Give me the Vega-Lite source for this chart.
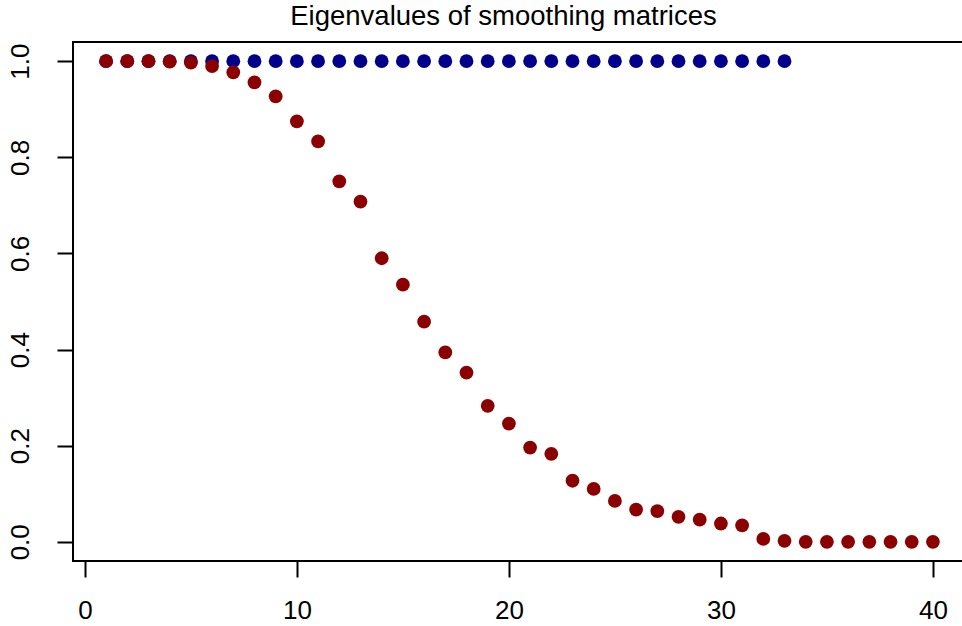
{
  "$schema": "https://vega.github.io/schema/vega-lite/v6.json",
  "autosize": "none",
  "padding": {"left": 73, "top": 42, "right": 0, "bottom": 65},
  "width": 893,
  "height": 519,
  "background": "white",
  "config": {
    "font": "Liberation Sans",
    "view": {"stroke": "black", "strokeWidth": 2},
    "axis": {"grid": false, "domain": false, "ticks": true, "tickColor": "black", "tickWidth": 2, "tickSize": 16, "labelColor": "black", "labelFontSize": 26, "labelFont": "Liberation Sans", "title": null}
  },
  "title": {"text": "Eigenvalues of smoothing matrices", "fontSize": 27.5, "fontWeight": "normal", "font": "Liberation Sans", "color": "black", "offset": 12, "dx": -16},
  "data": {
    "values": [
      {"i": 1, "eigenvalue": 1, "series": "projection"},
      {"i": 2, "eigenvalue": 1, "series": "projection"},
      {"i": 3, "eigenvalue": 1, "series": "projection"},
      {"i": 4, "eigenvalue": 1, "series": "projection"},
      {"i": 5, "eigenvalue": 1, "series": "projection"},
      {"i": 6, "eigenvalue": 1, "series": "projection"},
      {"i": 7, "eigenvalue": 1, "series": "projection"},
      {"i": 8, "eigenvalue": 1, "series": "projection"},
      {"i": 9, "eigenvalue": 1, "series": "projection"},
      {"i": 10, "eigenvalue": 1, "series": "projection"},
      {"i": 11, "eigenvalue": 1, "series": "projection"},
      {"i": 12, "eigenvalue": 1, "series": "projection"},
      {"i": 13, "eigenvalue": 1, "series": "projection"},
      {"i": 14, "eigenvalue": 1, "series": "projection"},
      {"i": 15, "eigenvalue": 1, "series": "projection"},
      {"i": 16, "eigenvalue": 1, "series": "projection"},
      {"i": 17, "eigenvalue": 1, "series": "projection"},
      {"i": 18, "eigenvalue": 1, "series": "projection"},
      {"i": 19, "eigenvalue": 1, "series": "projection"},
      {"i": 20, "eigenvalue": 1, "series": "projection"},
      {"i": 21, "eigenvalue": 1, "series": "projection"},
      {"i": 22, "eigenvalue": 1, "series": "projection"},
      {"i": 23, "eigenvalue": 1, "series": "projection"},
      {"i": 24, "eigenvalue": 1, "series": "projection"},
      {"i": 25, "eigenvalue": 1, "series": "projection"},
      {"i": 26, "eigenvalue": 1, "series": "projection"},
      {"i": 27, "eigenvalue": 1, "series": "projection"},
      {"i": 28, "eigenvalue": 1, "series": "projection"},
      {"i": 29, "eigenvalue": 1, "series": "projection"},
      {"i": 30, "eigenvalue": 1, "series": "projection"},
      {"i": 31, "eigenvalue": 1, "series": "projection"},
      {"i": 32, "eigenvalue": 1, "series": "projection"},
      {"i": 33, "eigenvalue": 1, "series": "projection"},
      {"i": 1, "eigenvalue": 1.0, "series": "smoother"},
      {"i": 2, "eigenvalue": 1.0, "series": "smoother"},
      {"i": 3, "eigenvalue": 1.0, "series": "smoother"},
      {"i": 4, "eigenvalue": 0.999, "series": "smoother"},
      {"i": 5, "eigenvalue": 0.997, "series": "smoother"},
      {"i": 6, "eigenvalue": 0.99, "series": "smoother"},
      {"i": 7, "eigenvalue": 0.977, "series": "smoother"},
      {"i": 8, "eigenvalue": 0.956, "series": "smoother"},
      {"i": 9, "eigenvalue": 0.927, "series": "smoother"},
      {"i": 10, "eigenvalue": 0.875, "series": "smoother"},
      {"i": 11, "eigenvalue": 0.833, "series": "smoother"},
      {"i": 12, "eigenvalue": 0.75, "series": "smoother"},
      {"i": 13, "eigenvalue": 0.708, "series": "smoother"},
      {"i": 14, "eigenvalue": 0.59, "series": "smoother"},
      {"i": 15, "eigenvalue": 0.535, "series": "smoother"},
      {"i": 16, "eigenvalue": 0.458, "series": "smoother"},
      {"i": 17, "eigenvalue": 0.394, "series": "smoother"},
      {"i": 18, "eigenvalue": 0.352, "series": "smoother"},
      {"i": 19, "eigenvalue": 0.283, "series": "smoother"},
      {"i": 20, "eigenvalue": 0.246, "series": "smoother"},
      {"i": 21, "eigenvalue": 0.196, "series": "smoother"},
      {"i": 22, "eigenvalue": 0.183, "series": "smoother"},
      {"i": 23, "eigenvalue": 0.127, "series": "smoother"},
      {"i": 24, "eigenvalue": 0.11, "series": "smoother"},
      {"i": 25, "eigenvalue": 0.085, "series": "smoother"},
      {"i": 26, "eigenvalue": 0.067, "series": "smoother"},
      {"i": 27, "eigenvalue": 0.064, "series": "smoother"},
      {"i": 28, "eigenvalue": 0.052, "series": "smoother"},
      {"i": 29, "eigenvalue": 0.046, "series": "smoother"},
      {"i": 30, "eigenvalue": 0.038, "series": "smoother"},
      {"i": 31, "eigenvalue": 0.034, "series": "smoother"},
      {"i": 32, "eigenvalue": 0.006, "series": "smoother"},
      {"i": 33, "eigenvalue": 0.002, "series": "smoother"},
      {"i": 34, "eigenvalue": 0.0, "series": "smoother"},
      {"i": 35, "eigenvalue": 0.0, "series": "smoother"},
      {"i": 36, "eigenvalue": 0.0, "series": "smoother"},
      {"i": 37, "eigenvalue": 0.0, "series": "smoother"},
      {"i": 38, "eigenvalue": 0.0, "series": "smoother"},
      {"i": 39, "eigenvalue": 0.0, "series": "smoother"},
      {"i": 40, "eigenvalue": 0.0, "series": "smoother"}
    ]
  },
  "mark": {"type": "point", "shape": "circle", "filled": true, "opacity": 1, "size": 190},
  "encoding": {
    "x": {
      "field": "i", "type": "quantitative",
      "scale": {"domain": [-0.56, 41.56], "nice": false, "zero": false},
      "axis": {"values": [0, 10, 20, 30, 40], "labelPadding": 20, "labelFlush": false, "labelOverlap": false}
    },
    "y": {
      "field": "eigenvalue", "type": "quantitative",
      "scale": {"domain": [-0.04, 1.04], "nice": false, "zero": false},
      "axis": {"values": [0, 0.2, 0.4, 0.6, 0.8, 1.0], "format": ".1f", "labelAngle": -90, "labelAlign": "center", "labelBaseline": "bottom", "labelPadding": 24, "labelFlush": false, "labelOverlap": false}
    },
    "color": {
      "field": "series", "type": "nominal",
      "scale": {"domain": ["projection", "smoother"], "range": ["#00008B", "#8B0000"]},
      "legend": null
    }
  }
}
